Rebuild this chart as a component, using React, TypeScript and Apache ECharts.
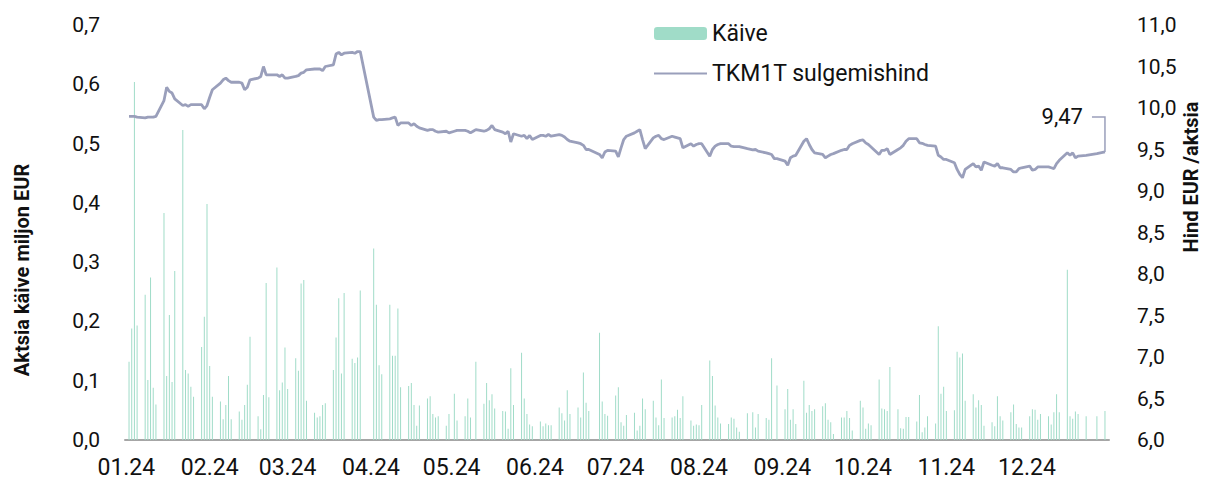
import React, { useEffect, useRef } from "react";
import * as echarts from "echarts";

const YEAR = 2024;
const holidays = [
  "2024-01-01", "2024-03-29", "2024-04-01", "2024-05-01", "2024-06-24",
  "2024-08-20", "2024-12-24", "2024-12-25", "2024-12-26", "2024-12-31",
];

// Daily turnover (million EUR), one list per month, trading days in order
const volJan = [0.132, 0.188, 0.604, 0.193, 0.245, 0.101, 0.274, 0.088, 0.060, 0.383, 0.108, 0.211, 0.098, 0.285, 0.523, 0.118, 0.112, 0.090, 0.073, 0.157, 0.208, 0.398];
const volFeb = [0.125, 0.073, 0.065, 0.035, 0.059, 0.108, 0.035, 0.048, 0.034, 0.059, 0.093, 0.174, 0.040, 0.018, 0.076, 0.265, 0.072, 0.291, 0.084, 0.097, 0.156];
const volMar = [0.086, 0.138, 0.117, 0.264, 0.270, 0.066, 0.046, 0.038, 0.040, 0.059, 0.062, 0.118, 0.173, 0.239, 0.112, 0.248, 0.137, 0.130, 0.139, 0.252];
const volApr = [0.323, 0.228, 0.126, 0.111, 0.228, 0.142, 0.142, 0.222, 0.089, 0.091, 0.096, 0.059, 0.024, 0.058, 0.070, 0.074, 0.044, 0.038, 0.040, 0.024, 0.044];
const volMay = [0.078, 0.033, 0.040, 0.070, 0.038, 0, 0.132, 0.061, 0.096, 0.067, 0.077, 0.053, 0.049, 0.048, 0.019, 0.121, 0.059, 0.147, 0.070, 0.044, 0.026, 0.023];
const volJun = [0.031, 0.023, 0.028, 0.025, 0.025, 0.055, 0.045, 0.033, 0.084, 0.044, 0.055, 0.038, 0.114, 0.063, 0.049, 0.181, 0.065, 0.044, 0.041];
const volJul = [0.075, 0.089, 0.030, 0.024, 0.042, 0.046, 0.016, 0.024, 0.070, 0.052, 0.066, 0.038, 0.025, 0.102, 0.037, 0.038, 0.040, 0.051, 0.037, 0.074, 0.033, 0.024, 0.026];
const volAug = [0.025, 0.059, 0.134, 0.108, 0.058, 0.038, 0.028, 0.027, 0.038, 0.036, 0.021, 0.014, 0.045, 0.047, 0.021, 0.044, 0.037, 0.034, 0.138, 0, 0.092];
const volSep = [0.052, 0.086, 0.034, 0.052, 0.027, 0.100, 0.046, 0.059, 0.049, 0.052, 0.057, 0.062, 0.034, 0.030, 0.010, 0.038, 0.038, 0.049, 0.037, 0.016, 0.066];
const volOct = [0.055, 0.019, 0.028, 0.025, 0.102, 0.053, 0.052, 0.049, 0.123, 0.052, 0.020, 0.019, 0.039, 0.039, 0.031, 0.076, 0.013, 0.021, 0.040, 0.028, 0.192, 0.078, 0.090];
const volNov = [0.049, 0.050, 0.149, 0.139, 0.146, 0.066, 0.077, 0.055, 0.067, 0.059, 0.024, 0.030, 0.023, 0.074, 0.040, 0.033, 0.047, 0.060, 0.027, 0.021, 0.021];
const volDec = [0.040, 0.052, 0.051, 0.034, 0.044, 0.040, 0.026, 0.047, 0.077, 0.047, 0.287, 0.040, 0.036, 0.048, 0.044, 0.040, 0.040, 0.049];

// Closing price (EUR / share), trading days in order
const pxJan = [9.90, 9.90, 9.90, 9.89, 9.88, 9.89, 9.89, 9.89, 9.90, 10.09, 10.25, 10.20, 10.18, 10.11, 10.03, 10.04, 10.02, 10.04, 10.04, 10.04, 9.99, 10.03];
const pxFeb = [10.13, 10.22, 10.30, 10.34, 10.36, 10.33, 10.31, 10.31, 10.30, 10.22, 10.25, 10.34, 10.36, 10.38, 10.50, 10.40, 10.40, 10.40, 10.38, 10.40, 10.36];
const pxMar = [10.36, 10.38, 10.39, 10.42, 10.43, 10.46, 10.47, 10.47, 10.47, 10.45, 10.50, 10.52, 10.65, 10.67, 10.64, 10.66, 10.67, 10.66, 10.68, 10.68];
const pxApr = [9.89, 9.85, 9.86, 9.86, 9.87, 9.88, 9.89, 9.79, 9.82, 9.82, 9.79, 9.81, 9.78, 9.76, 9.73, 9.74, 9.74, 9.72, 9.71, 9.72, 9.70];
const pxMay = [9.72, 9.73, 9.73, 9.72, 9.70, 9.72, 9.74, 9.72, 9.73, 9.75, 9.79, 9.74, 9.71, 9.69, 9.72, 9.59, 9.69, 9.66, 9.67, 9.63, 9.67, 9.62];
const pxJun = [9.67, 9.67, 9.66, 9.68, 9.66, 9.68, 9.67, 9.65, 9.62, 9.60, 9.58, 9.57, 9.55, 9.50, 9.50, 9.44, 9.40, 9.47, 9.49];
const pxJul = [9.48, 9.41, 9.52, 9.62, 9.66, 9.70, 9.72, 9.74, 9.62, 9.51, 9.64, 9.66, 9.67, 9.63, 9.62, 9.66, 9.65, 9.64, 9.63, 9.52, 9.57, 9.54, 9.56];
const pxAug = [9.57, 9.57, 9.42, 9.50, 9.54, 9.56, 9.57, 9.57, 9.54, 9.535, 9.535, 9.535, 9.51, 9.495, 9.50, 9.48, 9.46, 9.45, 9.44, 9.39, 9.39];
const pxSep = [9.36, 9.31, 9.40, 9.42, 9.43, 9.60, 9.63, 9.56, 9.50, 9.46, 9.44, 9.40, 9.42, 9.44, 9.45, 9.49, 9.50, 9.50, 9.55, 9.57, 9.61];
const pxOct = [9.615, 9.58, 9.56, 9.53, 9.44, 9.49, 9.49, 9.51, 9.44, 9.50, 9.52, 9.55, 9.60, 9.63, 9.63, 9.58, 9.575, 9.56, 9.55, 9.54, 9.43, 9.41, 9.38];
const pxNov = [9.38, 9.34, 9.26, 9.20, 9.16, 9.26, 9.33, 9.29, 9.30, 9.25, 9.35, 9.31, 9.30, 9.33, 9.28, 9.28, 9.26, 9.23, 9.23, 9.27, 9.28];
const pxDec = [9.30, 9.25, 9.26, 9.29, 9.29, 9.29, 9.28, 9.27, 9.33, 9.37, 9.46, 9.43, 9.46, 9.40, 9.42, 9.43, 9.45, 9.47];

const volumeByMonth = [volJan, volFeb, volMar, volApr, volMay, volJun, volJul, volAug, volSep, volOct, volNov, volDec];
const priceByMonth = [pxJan, pxFeb, pxMar, pxApr, pxMay, pxJun, pxJul, pxAug, pxSep, pxOct, pxNov, pxDec];

const seriesNames = ["Käive", "TKM1T sulgemishind"];
const leftAxisName = "Aktsia käive miljon EUR";
const rightAxisName = "Hind EUR /aktsia";

const pad = (n: number) => (n < 10 ? "0" + n : "" + n);

// Calendar days of the year (category axis)
const days: string[] = [];
const volData: (number | null)[] = [];
const priceData: (number | null)[] = [];
for (let m = 0; m < 12; m++) {
  const nDays = new Date(Date.UTC(YEAR, m + 1, 0)).getUTCDate();
  let k = 0;
  for (let d = 1; d <= nDays; d++) {
    const key = `${YEAR}-${pad(m + 1)}-${pad(d)}`;
    days.push(key);
    const wd = new Date(Date.UTC(YEAR, m, d)).getUTCDay();
    if (wd === 0 || wd === 6 || holidays.includes(key) || k >= priceByMonth[m].length) {
      volData.push(null);
      priceData.push(null);
    } else {
      volData.push(volumeByMonth[m][k]);
      priceData.push(priceByMonth[m][k]);
      k++;
    }
  }
}

const comma = (v: number, d: number) => v.toFixed(d).replace(".", ",");

const LINE_COLOR = "#9a9fbb";
const BAR_COLOR = "#a0dcc8";
const FONT = "Roboto";

export default function App() {
  const ref = useRef<HTMLDivElement>(null);
  useEffect(() => {
    if (!ref.current) return;
    const chart = echarts.init(ref.current, undefined, { renderer: "svg" });
    chart.setOption({
      animation: false,
      textStyle: { fontFamily: FONT },
      grid: { left: 125, right: 99, top: 25, bottom: 41 },
      legend: {
        orient: "vertical",
        left: 648,
        top: 17,
        itemWidth: 53,
        itemHeight: 13,
        itemGap: 17,
        textStyle: { fontSize: 23, color: "#111", fontFamily: FONT },
        data: [
          { name: seriesNames[0] },
          { name: seriesNames[1], itemStyle: { opacity: 0 } },
        ],
      },
      xAxis: {
        type: "category",
        data: days,
        boundaryGap: true,
        axisTick: { show: false },
        axisLine: { lineStyle: { color: "#a6a6a6", width: 2 } },
        axisLabel: {
          fontSize: 23,
          color: "#111",
          margin: 16,
          interval: (_i: number, v: string) => v.endsWith("-01"),
          formatter: (v: string) => `${v.slice(5, 7)}.${v.slice(2, 4)}`,
        },
      },
      yAxis: [
        {
          type: "value",
          min: 0,
          max: 0.7,
          interval: 0.1,
          splitLine: { show: false },
          axisLine: { show: false },
          axisTick: { show: false },
          axisLabel: { fontSize: 21, color: "#111", margin: 25, formatter: (v: number) => comma(v, 1) },
        },
        {
          type: "value",
          min: 6,
          max: 11,
          interval: 0.5,
          position: "right",
          splitLine: { show: false },
          axisLine: { show: false },
          axisTick: { show: false },
          axisLabel: { fontSize: 21, color: "#111", margin: 28, formatter: (v: number) => comma(v, 1) },
        },
      ],
      series: [
        {
          name: seriesNames[0],
          type: "bar",
          yAxisIndex: 0,
          data: volData,
          barWidth: 1,
          itemStyle: { color: BAR_COLOR },
        },
        {
          name: seriesNames[1],
          type: "line",
          yAxisIndex: 1,
          data: priceData,
          connectNulls: true,
          symbol: "none",
          lineStyle: { color: LINE_COLOR, width: 2.8 },
          itemStyle: { color: LINE_COLOR },
        },
      ],
      graphic: [
        {
          id: "leftName",
          type: "text",
          x: 22,
          y: 270,
          rotation: Math.PI / 2,
          style: { text: leftAxisName, font: `bold 20px ${FONT}`, fill: "#111", align: "center", verticalAlign: "middle" },
        },
        {
          id: "rightName",
          type: "text",
          x: 1191,
          y: 177,
          rotation: Math.PI / 2,
          style: { text: rightAxisName, font: `bold 20px ${FONT}`, fill: "#111", align: "center", verticalAlign: "middle" },
        },
      ],
    });

    // last-value annotation with leader line
    let lastIdx = priceData.length - 1;
    while (lastIdx > 0 && priceData[lastIdx] == null) lastIdx--;
    const lastVal = priceData[lastIdx] as number;
    const pt = chart.convertToPixel({ xAxisIndex: 0, yAxisIndex: 1 }, [days[lastIdx], lastVal]) as number[];
    if (pt && isFinite(pt[0]) && isFinite(pt[1])) {
      const [px, py] = pt;
      const ly = py - 35;
      chart.setOption({
        graphic: [
          {
            id: "leader",
            type: "polyline",
            shape: { points: [[px - 13, ly], [px, ly], [px, py]] },
            style: { stroke: LINE_COLOR, lineWidth: 1.5, fill: null },
          },
          {
            id: "lastLabel",
            type: "text",
            x: px - 22,
            y: ly,
            style: { text: comma(lastVal, 2), font: `22px ${FONT}`, fill: "#111", align: "right", verticalAlign: "middle" },
          },
        ],
      });
    }

    return () => chart.dispose();
  }, []);
  return <div ref={ref} style={{ width: 1208, height: 481, position: "absolute", left: 0, top: 0 }} />;
}
